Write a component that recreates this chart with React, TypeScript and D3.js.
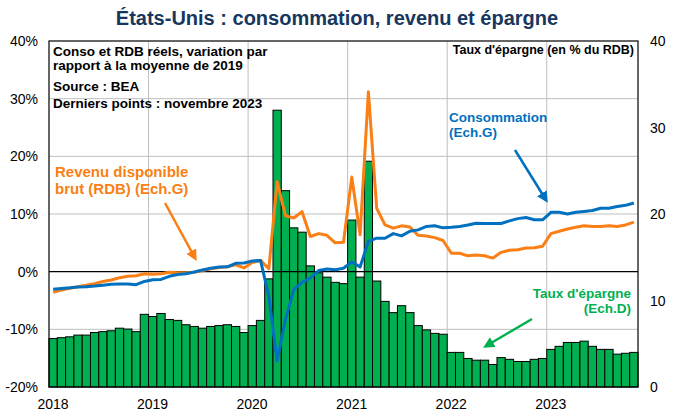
import React from "react";
import * as d3 from "d3";

const years = ["2018", "2019", "2020", "2021", "2022", "2023"];
const leftTicks = [40, 30, 20, 10, 0, -10, -20];
const rightTicks = [40, 30, 20, 10, 0];

// Taux d'épargne (% du RDB), janv. 2018 -> nov. 2023
const savingsRate = [
  5.6, 5.7, 5.8, 6.0, 6.0, 6.3, 6.4, 6.5, 6.8, 6.7, 6.4, 8.4,
  8.15, 8.5, 7.8, 7.7, 7.2, 7.0, 6.8, 7.0, 7.1, 7.2, 7.0, 6.3,
  7.1, 7.7, 12.5, 32.0, 22.7, 18.4, 17.9, 14.0, 13.2, 12.7, 12.1, 11.95,
  19.3, 12.7, 26.1, 12.25, 9.9, 8.6, 9.4, 8.6, 7.1, 6.6, 6.2, 6.1,
  4.0, 4.0, 3.3, 3.1, 3.1, 2.6, 3.4, 3.2, 2.95, 2.95, 3.2, 3.3,
  4.35, 4.7, 5.15, 5.15, 5.3, 4.7, 4.35, 4.35, 3.8, 3.9, 4.0,
];

// Consommation réelle, variation vs moyenne 2019 (%)
const consumption = [
  -3.05, -2.9, -2.8, -2.65, -2.6, -2.5, -2.35, -2.2, -2.15, -2.15, -2.25, -1.7,
  -1.4, -1.35, -0.8, -0.5, -0.35, -0.05, 0.3, 0.6, 0.8, 0.85, 1.45, 1.5,
  1.85, 1.95, -4.3, -15.5, -8.3, -3.1, -1.85, -1.1, 0.2, 0.45, 0.35, 0.6,
  1.7, 0.8, 5.25, 5.8, 5.8, 6.6, 6.2, 7.0, 7.25, 7.85, 7.95, 7.6,
  7.7, 7.85, 8.1, 8.4, 8.35, 8.35, 8.35, 8.8, 9.2, 9.4, 9.0, 9.0,
  10.3, 10.3, 10.0, 10.3, 10.45, 10.6, 11.0, 11.0, 11.3, 11.5, 11.9,
];

// RDB réel, variation vs moyenne 2019 (%)
const income = [
  -3.6, -3.2, -2.9, -2.6, -2.35, -2.1, -1.7, -1.45, -1.05, -0.8, -0.7, -0.35,
  -0.45, -0.35, -0.1, -0.2, -0.2, -0.1, 0.2, 0.5, 0.7, 0.85, 1.2, 0.65,
  1.6, 1.95, 0.5, 15.6, 9.7, 9.3, 10.4, 6.1, 6.6, 6.3, 5.0, 5.1,
  16.4, 6.4, 31.2, 11.0, 8.1, 7.55, 7.95, 7.75, 6.3, 6.2, 5.9, 5.4,
  3.2, 3.2, 2.75, 2.9, 2.75, 2.35, 3.35, 3.7, 3.8, 4.1, 4.15, 4.4,
  6.6, 7.0, 7.4, 7.7, 7.95, 7.85, 7.85, 7.95, 7.85, 8.1, 8.6,
];

const W = 674;
const H = 415;
const plot = { left: 49, right: 638, top: 41, bottom: 387 };
const FONT = "'Liberation Sans', Arial, sans-serif";
const GREEN = "#00B050";
const BLUE = "#0070C0";
const ORANGE = "#FA7F14";

export default function App() {
  const idx = d3.range(savingsRate.length);
  const x = d3.scaleBand<number>().domain(idx).range([plot.left, plot.right]).padding(0);
  const yL = d3.scaleLinear().domain([-20, 40]).range([plot.bottom, plot.top]);
  const yR = d3.scaleLinear().domain([0, 40]).range([plot.bottom, plot.top]);
  const cx = (i: number) => (x(i) as number) + x.bandwidth() / 2;
  const line = d3
    .line<number>()
    .x((_, i) => cx(i))
    .y((d) => yL(d));
  const yearX = (k: number) => plot.left + k * 12 * x.bandwidth();

  const arrow = (x1: number, y1: number, x2: number, y2: number, color: string, id: string) => (
    <g>
      <defs>
        <marker id={id} viewBox="0 0 10 10" refX="7" refY="5" markerWidth="4.5" markerHeight="4.5" orient="auto">
          <path d="M0,0 L10,5 L0,10 z" fill={color} />
        </marker>
      </defs>
      <line x1={x1} y1={y1} x2={x2} y2={y2} stroke={color} strokeWidth={2.5} markerEnd={`url(#${id})`} />
    </g>
  );

  return (
    <svg
      width={W}
      height={H}
      style={{ position: "absolute", left: 0, top: 0, background: "#fff" }}
      fontFamily={FONT}
    >
      <rect x={0} y={0} width={W} height={H} fill="#fff" />
      {/* Title */}
      <text x={337} y={25} textAnchor="middle" fontSize={20} fontWeight="bold" fill="#17375E">
        États-Unis : consommation, revenu et épargne
      </text>

      {/* gridlines */}
      {leftTicks
        .filter((t) => t !== 0 && t !== 40 && t !== -20)
        .map((t) => (
          <line key={t} x1={plot.left} x2={plot.right} y1={yL(t)} y2={yL(t)} stroke="#BFBFBF" strokeWidth={1} />
        ))}
      {years.slice(1).map((yr, k) => (
        <line key={yr} x1={yearX(k + 1)} x2={yearX(k + 1)} y1={plot.top} y2={plot.bottom} stroke="#BFBFBF" strokeWidth={1} />
      ))}

      {/* bars */}
      {savingsRate.map((v, i) => (
        <rect
          key={i}
          x={x(i)}
          y={yR(v)}
          width={x.bandwidth()}
          height={yR(0) - yR(v)}
          fill={GREEN}
          stroke="#000"
          strokeWidth={1}
        />
      ))}

      {/* zero line */}
      <line x1={plot.left} x2={plot.right} y1={yL(0)} y2={yL(0)} stroke="#000" strokeWidth={1.2} />

      {/* lines */}
      <path d={line(income) || ""} fill="none" stroke={ORANGE} strokeWidth={3} strokeLinejoin="round" />
      <path d={line(consumption) || ""} fill="none" stroke={BLUE} strokeWidth={3} strokeLinejoin="round" />

      {/* frame */}
      <rect
        x={plot.left}
        y={plot.top}
        width={plot.right - plot.left}
        height={plot.bottom - plot.top}
        fill="none"
        stroke="#000"
        strokeWidth={1.2}
      />

      {/* left axis labels */}
      {leftTicks.map((t) => (
        <text key={t} x={38} y={yL(t) + 5} textAnchor="end" fontSize={14} fill="#000">
          {t}%
        </text>
      ))}
      {/* right axis labels */}
      {rightTicks.map((t) => (
        <text key={t} x={650} y={yR(t) + 5} textAnchor="start" fontSize={14} fill="#000">
          {t}
        </text>
      ))}
      {/* x labels */}
      {years.map((yr, k) => (
        <text key={yr} x={yearX(k) + 4} y={409} textAnchor="middle" fontSize={14} fill="#000">
          {yr}
        </text>
      ))}

      {/* Notes */}
      <g fontSize={13.5} fontWeight="bold" fill="#000">
        <text x={53} y={56}>Conso et RDB réels, variation par</text>
        <text x={53} y={70}>rapport à la moyenne de 2019</text>
        <text x={53} y={91}>Source : BEA</text>
        <text x={53} y={108}>Derniers points : novembre 2023</text>
      </g>
      <text x={634} y={54} textAnchor="end" fontSize={12.5} fontWeight="bold" fill="#000">
        Taux d'épargne (en % du RDB)
      </text>

      {/* annotations */}
      <g fontSize={15} fontWeight="bold" fill={ORANGE}>
        <text x={55} y={177}>Revenu disponible</text>
        <text x={55} y={194}>brut (RDB) (Ech.G)</text>
      </g>
      {arrow(165, 203, 195, 258, ORANGE, "arrO")}

      <g fontSize={13.5} fontWeight="bold" fill={BLUE}>
        <text x={449} y={122}>Consommation</text>
        <text x={449} y={137}>(Ech.G)</text>
      </g>
      {arrow(515, 150, 546, 200, BLUE, "arrB")}

      <g fontSize={13.5} fontWeight="bold" fill={GREEN} textAnchor="end">
        <text x={631} y={298}>Taux d'épargne</text>
        <text x={631} y={313}>(Ech.D)</text>
      </g>
      {arrow(532, 319, 486, 346, GREEN, "arrG")}
    </svg>
  );
}
